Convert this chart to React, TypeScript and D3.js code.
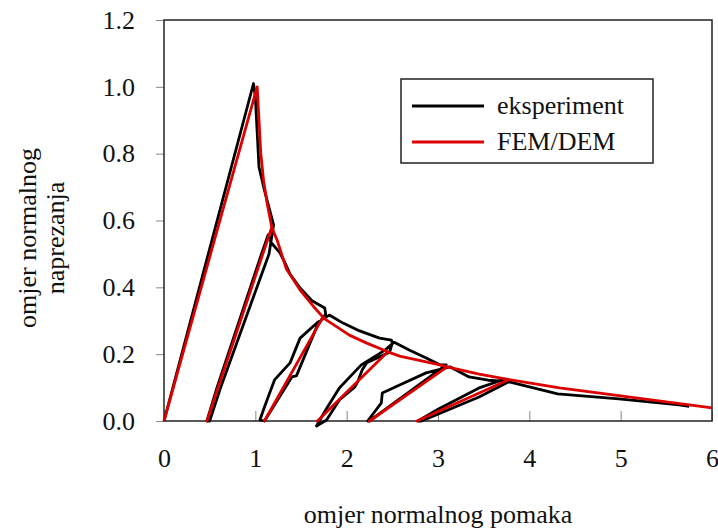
import { FC, useEffect, useRef } from "react";
import * as d3 from "d3";

// omjer normalnog pomaka / omjer normalnog naprezanja
const experiment: [number, number][] = [
    [0, 0], [0.98, 1.01], [1.0, 0.97], [1.04, 0.76], [1.1, 0.69], [1.2, 0.587],
    [1.15, 0.5], [0.62, 0.1], [0.5, 0],
    [0.47, 0], [0.58, 0.1], [1.08, 0.51], [1.14, 0.557], [1.17, 0.535], [1.27, 0.503],
    [1.33, 0.47], [1.38, 0.44], [1.49, 0.398], [1.62, 0.36], [1.76, 0.338],
    [1.77, 0.32], [1.68, 0.287], [1.45, 0.135], [1.4, 0.132], [1.1, 0],
    [1.05, 0.003], [1.1, 0.042], [1.21, 0.123], [1.38, 0.174], [1.49, 0.248], [1.68, 0.295], [1.81, 0.317],
    [1.96, 0.293], [2.12, 0.272], [2.36, 0.248], [2.49, 0.242],
    [2.5, 0.233], [2.47, 0.206], [2.22, 0.174], [2.17, 0.153], [2.12, 0.117], [2.09, 0.102],
    [1.92, 0.063], [1.85, 0.033], [1.78, 0.003], [1.67, -0.015],
    [1.7, 0], [1.79, 0.042], [1.92, 0.099], [2.16, 0.168], [2.42, 0.212], [2.52, 0.236],
    [2.69, 0.212], [2.86, 0.19], [3.02, 0.168], [3.09, 0.168],
    [2.7, 0.09], [2.25, 0],
    [2.23, 0], [2.38, 0.054], [2.39, 0.084], [2.58, 0.108], [2.87, 0.144], [3.13, 0.162],
    [3.34, 0.132], [3.55, 0.122], [3.78, 0.118],
    [3.45, 0.072], [2.82, 0],
    [2.78, 0], [3.0, 0.035], [3.45, 0.099], [3.73, 0.125], [3.78, 0.117],
    [4.31, 0.081], [4.98, 0.066], [5.64, 0.048], [5.75, 0.044],
];

const femDem: [number, number][] = [
    [0, 0], [1.02, 1.0], [1.04, 0.9], [1.06, 0.8], [1.09, 0.72], [1.13, 0.65], [1.18, 0.58],
    [0.47, 0], [1.18, 0.58],
    [1.24, 0.54], [1.34, 0.455], [1.49, 0.392], [1.63, 0.345], [1.74, 0.311],
    [1.1, 0], [1.74, 0.311],
    [1.78, 0.302], [2.03, 0.257], [2.22, 0.233], [2.45, 0.207],
    [1.68, 0], [2.45, 0.207],
    [2.58, 0.194], [2.77, 0.183], [3.02, 0.168], [3.1, 0.162],
    [2.25, 0], [3.1, 0.162],
    [3.45, 0.14], [3.78, 0.124],
    [2.77, 0], [3.78, 0.124],
    [4.33, 0.099], [5.0, 0.075], [5.5, 0.057], [6.0, 0.039],
];

const xTicks = [0, 1, 2, 3, 4, 5, 6];
const yTicks = [0, 0.2, 0.4, 0.6, 0.8, 1.0, 1.2];

const legendItems = [
    { label: "eksperiment", color: "#000000" },
    { label: "FEM/DEM", color: "#dd0000" },
];

const FONT = "Liberation Serif, DejaVu Serif, serif";

const Chart: FC = () => {
    const svgRef = useRef<SVGSVGElement>(null);

    useEffect(() => {
        if (!svgRef.current) return;
        const width = 718;
        const height = 530;
        const left = 164, right = 712, top = 20, bottom = 421;

        const svg = d3.select(svgRef.current);
        svg.attr("width", width).attr("height", height);

        const x = d3.scaleLinear([0, 6], [left, right]);
        const y = d3.scaleLinear([0, 1.2], [bottom, top]);

        svg.append("rect")
            .attr("width", width)
            .attr("height", height)
            .attr("fill", "#ffffff");

        // y axis
        svg.append("g")
            .attr("transform", `translate(${left},0)`)
            .call(
                d3.axisLeft(y)
                    .tickValues(yTicks)
                    .tickFormat(d3.format(".1f"))
                    .tickSize(8)
                    .tickPadding(21)
            )
            .call((g) => g.select(".domain").remove())
            .call((g) => g.selectAll(".tick line").attr("stroke", "#888"))
            .call((g) =>
                g.selectAll(".tick text")
                    .style("font-family", FONT)
                    .style("font-size", "26px")
                    .attr("fill", "#111")
            );

        // x axis, ticks pointing inward
        svg.append("g")
            .attr("transform", `translate(0,${bottom})`)
            .call(
                d3.axisBottom(x)
                    .tickValues(xTicks)
                    .tickFormat(d3.format("d"))
                    .tickSize(-10)
                    .tickPadding(28)
            )
            .call((g) => g.select(".domain").remove())
            .call((g) => g.selectAll(".tick line").attr("stroke", "#888"))
            .call((g) =>
                g.selectAll(".tick text")
                    .style("font-family", FONT)
                    .style("font-size", "26px")
                    .attr("fill", "#111")
            );

        // frame
        svg.append("rect")
            .attr("x", left)
            .attr("y", top)
            .attr("width", right - left)
            .attr("height", bottom - top)
            .attr("fill", "none")
            .attr("stroke", "#222")
            .attr("stroke-width", 1.5);

        const line = d3
            .line<[number, number]>()
            .x((d) => x(d[0]))
            .y((d) => y(d[1]));

        svg.append("path")
            .attr("fill", "none")
            .attr("stroke", "#000")
            .attr("stroke-width", 2.8)
            .attr("stroke-linejoin", "round")
            .attr("d", line(experiment));

        svg.append("path")
            .attr("fill", "none")
            .attr("stroke", "#dd0000")
            .attr("stroke-width", 2.8)
            .attr("stroke-linejoin", "round")
            .attr("d", line(femDem));

        // legend
        const lg = svg.append("g");
        lg.append("rect")
            .attr("x", 401)
            .attr("y", 79)
            .attr("width", 252)
            .attr("height", 84)
            .attr("fill", "#fff")
            .attr("stroke", "#222")
            .attr("stroke-width", 1.5);
        legendItems.forEach((item, i) => {
            const cy = 106 + i * 36;
            lg.append("line")
                .attr("x1", 412)
                .attr("x2", 484)
                .attr("y1", cy)
                .attr("y2", cy)
                .attr("stroke", item.color)
                .attr("stroke-width", 2.8);
            lg.append("text")
                .attr("x", 497)
                .attr("y", cy + 8)
                .style("font-family", FONT)
                .style("font-size", "26px")
                .attr("fill", "#111")
                .text(item.label);
        });

        // axis titles
        svg.append("text")
            .attr("x", (left + right) / 2)
            .attr("y", 523)
            .attr("text-anchor", "middle")
            .style("font-family", FONT)
            .style("font-size", "26px")
            .attr("fill", "#111")
            .text("omjer normalnog pomaka");

        ["omjer normalnog", "naprezanja"].forEach((t, i) => {
            svg.append("text")
                .attr("transform", `translate(${36 + i * 28},238) rotate(-90)`)
                .attr("text-anchor", "middle")
                .style("font-family", FONT)
                .style("font-size", "26px")
                .attr("fill", "#111")
                .text(t);
        });

        return () => {
            svg.selectAll("*").remove();
        };
    }, []);

    return (
        <svg
            ref={svgRef}
            style={{ position: "absolute", left: 0, top: 0, display: "block" }}
        />
    );
};

export default function App() {
    return <Chart />;
}
